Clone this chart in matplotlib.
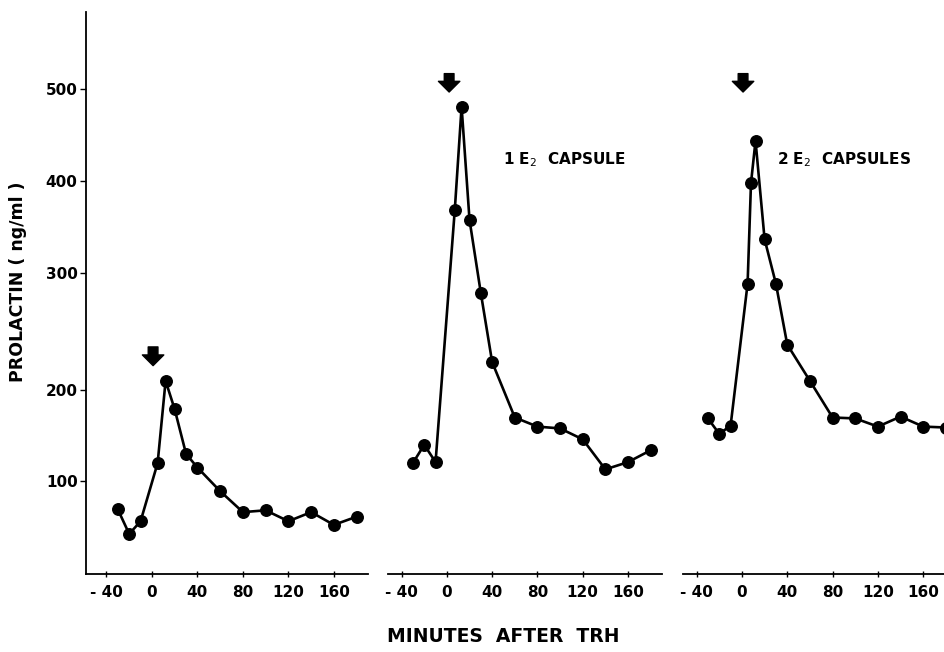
import numpy as np
import matplotlib
matplotlib.use("Agg")
import matplotlib.pyplot as plt

# --- data (minutes after TRH, prolactin ng/ml) ---
t_ctrl = [-30, -20, -10, 5, 12, 20, 30, 40, 60, 80, 100, 120, 140, 160, 180]
prl_ctrl = [69, 42, 56, 120, 208, 179, 130, 115, 89, 66, 68, 56, 66, 52, 61]

t_1e2 = [-30, -20, -10, 7, 13, 20, 30, 40, 60, 80, 100, 120, 140, 160, 180]
prl_1e2 = [120, 140, 121, 369, 481, 358, 283, 224, 170, 160, 158, 146, 113, 121, 134]

t_2e2 = [-30, -20, -10, 5, 8, 12, 20, 30, 40, 60, 80, 100, 120, 140, 160, 180]
prl_2e2 = [169, 152, 161, 291, 398, 444, 337, 291, 239, 208, 170, 169, 160, 171, 160, 159]

panel_labels = ["", "1 E$_2$  CAPSULE", "2 E$_2$  CAPSULES"]
x_ticks = [-40, 0, 40, 80, 120, 160]
x_ticklabels = ["- 40", "0", "40", "80", "120", "160"]
y_ticks = [100, 200, 300, 400, 500]

# the printed y axis is not evenly spaced; map values through the drawn tick positions
knot_vals = np.array([-100, 0, 100, 200, 300, 400, 500, 600, 700])
knot_pos = np.array([-11, 80, 171, 262, 379, 471, 563, 655, 747])

def fwd(v):
    return np.interp(v, knot_vals, knot_pos)

def inv(p):
    return np.interp(p, knot_pos, knot_vals)

fig = plt.figure(figsize=(9.45, 6.52), dpi=100)
W, H = 945, 652
bottom = (H - 574) / H
height = (574 - 12) / H

# (left px, right px, xlim)
boxes = [(86, 368, (-58, 190)), (388, 662, (-52, 190)), (683, 945, (-52, 179.2))]
series = [(t_ctrl, prl_ctrl), (t_1e2, prl_1e2), (t_2e2, prl_2e2)]
arrows = [(1, 221, 237), (2, 497, 517), (1, 497, 517)]

for i, ((l, r, xl), (t, p)) in enumerate(zip(boxes, series)):
    ax = fig.add_axes([l / W, bottom, (r - l) / W, height])
    ax.set_yscale("function", functions=(fwd, inv))
    ax.set_xlim(*xl)
    ax.set_ylim(-2, 584)
    ax.plot(t, p, color="black", lw=1.9, marker="o", markersize=8.3,
            clip_on=False, zorder=3)

    for s in ["top", "right"]:
        ax.spines[s].set_visible(False)
    ax.spines["bottom"].set_linewidth(1.3)
    ax.set_xticks(x_ticks)
    ax.set_xticklabels(x_ticklabels, fontsize=11, fontweight="bold")
    ax.tick_params(axis="x", direction="inout", length=4, width=1, pad=6)

    if i == 0:
        ax.spines["left"].set_linewidth(1.3)
        ax.set_yticks(y_ticks)
        ax.set_yticklabels([str(v) for v in y_ticks], fontsize=11, fontweight="bold")
        ax.tick_params(axis="y", direction="out", length=4, width=1, pad=2)
        ax.yaxis.set_minor_locator(plt.NullLocator())
    else:
        ax.spines["left"].set_visible(False)
        ax.set_yticks([])
        ax.yaxis.set_minor_locator(plt.NullLocator())

    # TRH injection arrow
    at, tip, top = arrows[i]
    ax.annotate("", xy=(at, tip), xytext=(at, top),
                arrowprops=dict(arrowstyle="simple,head_length=0.55,head_width=1.1,tail_width=0.5",
                                color="black", shrinkA=0, shrinkB=0, mutation_scale=14))

    if panel_labels[i]:
        ax.text(0.42 if i == 1 else 0.36, 0.737, panel_labels[i], transform=ax.transAxes,
                fontsize=11, fontweight="bold", ha="left", va="center")

fig.text(18 / W, (H - 282) / H, "PROLACTIN ( ng/ml )", rotation=90,
         fontsize=12.5, fontweight="bold", ha="center", va="center")
fig.text(503 / W, (H - 637) / H, "MINUTES  AFTER  TRH",
         fontsize=13.5, fontweight="bold", ha="center", va="center")

fig.savefig("out.png", dpi=100)
